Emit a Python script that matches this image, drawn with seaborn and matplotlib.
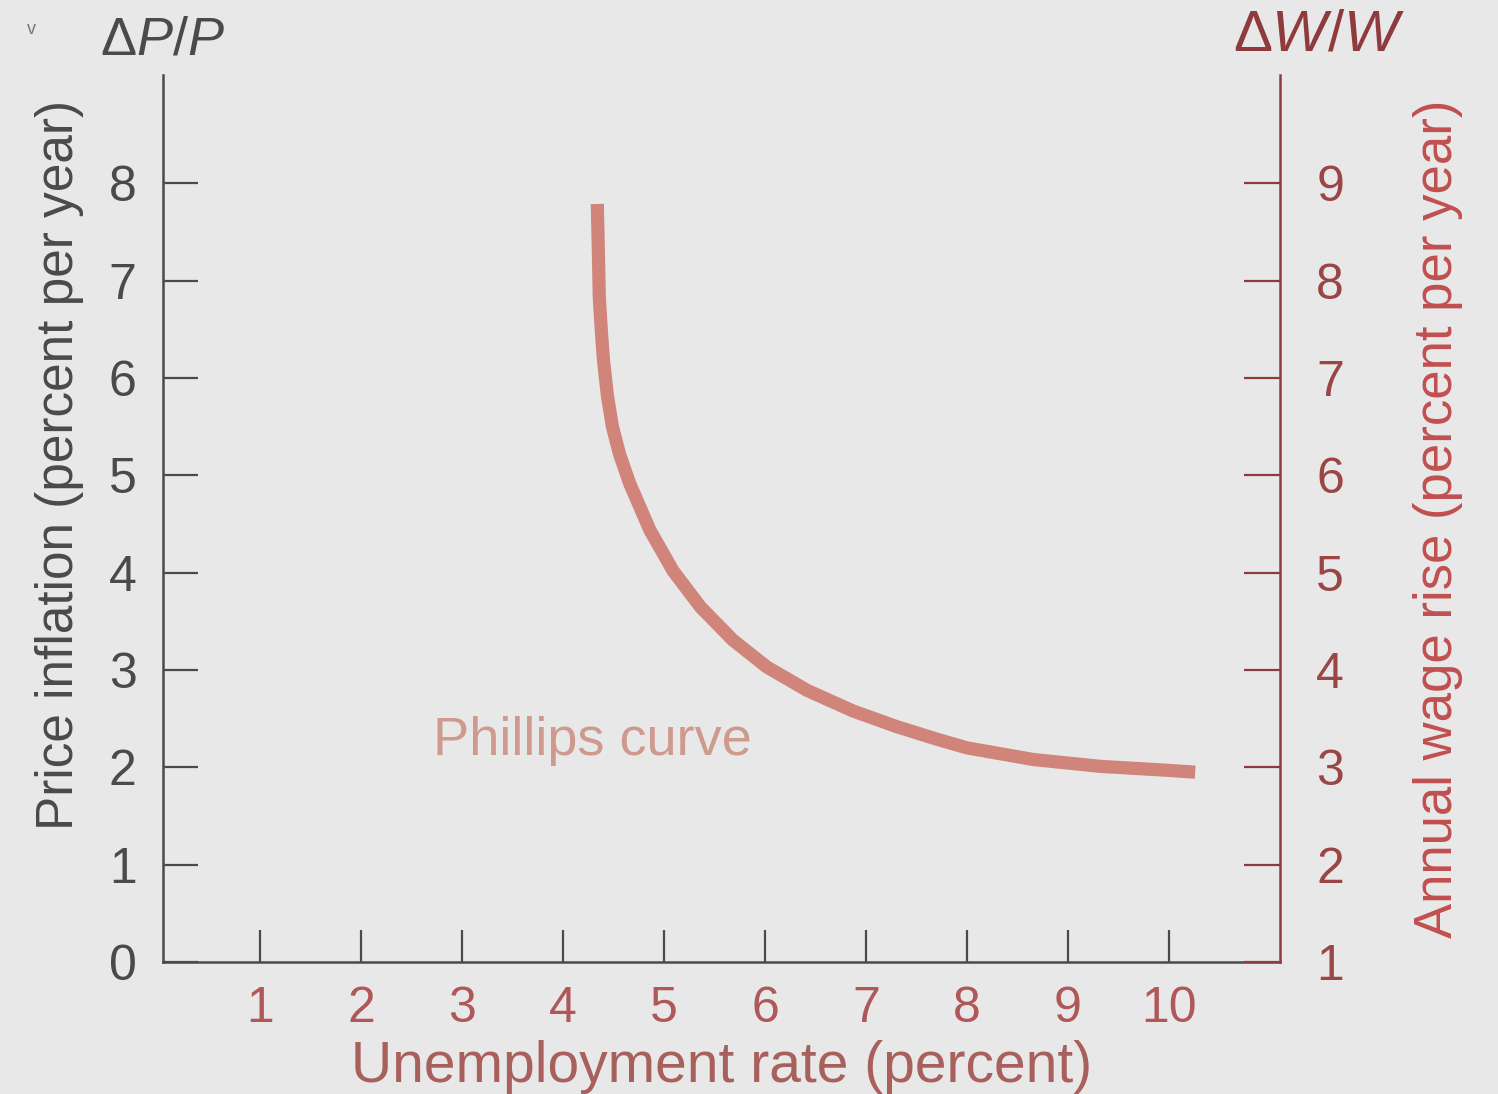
import pandas as pd
import matplotlib
matplotlib.use("Agg")
import matplotlib.pyplot as plt
import seaborn as sns

# Phillips curve (unemployment %, price inflation %)
unemployment = [4.34, 4.35, 4.36, 4.38, 4.40, 4.44, 4.49, 4.56, 4.66, 4.86,
                5.09, 5.36, 5.68, 6.02, 6.42, 6.87, 7.30, 7.70, 8.00, 8.66,
                9.32, 9.98, 10.26]
inflation = [7.79, 7.34, 6.83, 6.49, 6.20, 5.82, 5.50, 5.22, 4.92, 4.44,
             4.02, 3.65, 3.31, 3.03, 2.79, 2.58, 2.42, 2.29, 2.20, 2.08,
             2.01, 1.97, 1.95]

x_ticks = [1, 2, 3, 4, 5, 6, 7, 8, 9, 10]
left_ticks = [0, 1, 2, 3, 4, 5, 6, 7, 8]
right_ticks = [1, 2, 3, 4, 5, 6, 7, 8, 9]

sns.set_theme(style="white")
plt.rcParams['font.family'] = ['Liberation Sans', 'DejaVu Sans']
plt.rcParams['mathtext.fontset'] = 'custom'
plt.rcParams['mathtext.rm'] = 'Liberation Sans'
plt.rcParams['mathtext.it'] = 'Liberation Sans:italic'

bg = '#e8e8e8'
dark = '#4a4a4a'
red_dark = '#8e3b3e'
red_mid = '#b0575a'
curve_col = '#d0847a'

fig = plt.figure(figsize=(14.98, 10.94), dpi=100, facecolor=bg)
ax = fig.add_axes([0.1088, 0.1207, 0.7457, 0.8103])
ax.set_facecolor(bg)

df = pd.DataFrame({"u": unemployment, "p": inflation})
sns.lineplot(data=df, x="u", y="p", sort=False, ax=ax, color=curve_col,
             linewidth=9.5, solid_capstyle='butt', solid_joinstyle='round')

ax.set_xlim(0.04, 11.10)
ax.set_ylim(0, 9.11)
ax.set_xticks(x_ticks)
ax.set_yticks(left_ticks)
ax.tick_params(axis='x', bottom=True, direction='in', length=23, width=1.6,
               color=dark, labelsize=36, labelcolor=red_mid, pad=17)
ax.tick_params(axis='y', left=True, direction='in', length=25, width=1.6,
               color=dark, labelsize=36, labelcolor=dark, pad=19)
for s in ['left', 'bottom']:
    ax.spines[s].set_color(dark)
    ax.spines[s].set_linewidth(1.8)
ax.spines['top'].set_visible(False)
ax.spines['right'].set_visible(False)

ax.set_xlabel("Unemployment rate (percent)", fontsize=41, color='#a8605c', labelpad=6)
ax.set_ylabel("Price inflation (percent per year)", fontsize=37, color=dark, labelpad=18)
ax.yaxis.label.set_y(0.561)

ax2 = ax.twinx()
ax2.set_ylim(1, 10.11)
ax2.set_yticks(right_ticks)
ax2.tick_params(axis='y', right=True, direction='in', length=26, width=1.6,
                color=red_dark, labelsize=36, labelcolor='#9a4646', pad=26)
ax2.spines['right'].set_color(red_dark)
ax2.spines['right'].set_linewidth(1.8)
for s in ['left', 'top', 'bottom']:
    ax2.spines[s].set_visible(False)
ax2.set_ylabel("Annual wage rise (percent per year)", fontsize=38,
               color='#c0504f', labelpad=50)

ax.text(2.71, 2.13, "Phillips curve", fontsize=39, color='#cf9a8e', va='baseline')

fig.text(0.0668, 0.963, r"Δ$P/P$", fontsize=39, color=dark, ha='left', va='center')
fig.text(0.823, 0.968, r"Δ$W/W$", fontsize=42, color=red_dark, ha='left', va='center')
fig.text(0.018, 0.973, "v", fontsize=13, color='#777777', ha='left', va='center')

fig.savefig("out.png", dpi=100, facecolor=bg)
